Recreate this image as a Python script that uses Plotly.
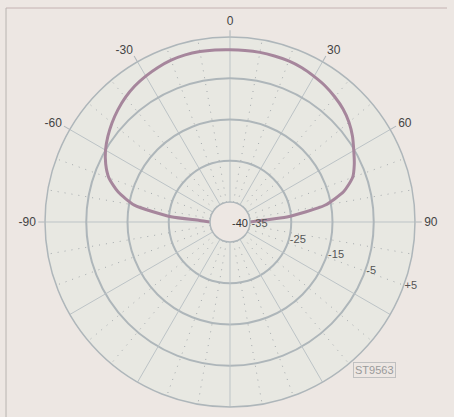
import plotly.graph_objects as go

# ---- data ----
angles_deg = [-90, -87, -85, -80, -75, -70, -65, -60, -55, -50, -45, -40, -35, -30, -25, -20, -15, -10, -5,
              0, 5, 10, 15, 20, 25, 30, 35, 40, 45, 50, 55, 60, 65, 70, 75, 80, 85, 87, 90]
level_db = [-35, -32.5, -25.5, -16.3, -11.8, -8.6, -6.6, -5.0, -3.7, -2.5, -1.4, -0.4, 0.4, 1.0, 1.5, 1.9, 2.1, 2.1, 2.0,
            1.9, 1.9, 1.9, 1.8, 1.7, 1.4, 0.9, 0.4, -0.3, -1.1, -2.2, -3.6, -5.2, -6.6, -8.2, -11.3, -16.5, -26.0, -32.0, -35]

ring_values = [-35, -25, -15, -5, 5]
ring_labels = ['-35', '-25', '-15', '-5', '+5']
center_label = '-40'
spoke_values = [0, 30, 60, 90, 270, 300, 330]
spoke_labels = ['0', '30', '60', '90', '-90', '-60', '-30']
lower_spokes = [120, 150, 180, 210, 240]
minor_spokes = [10, 20, 40, 50, 70, 80, 100, 110, 130, 140, 160, 170,
                190, 200, 220, 230, 250, 260, 280, 290, 310, 320, 340, 350]
code_label = 'ST9563'

W, H = 454, 417
cx, cy, R = 230, 222, 185
grid_col = '#aeb6ba'
spoke_col = '#bcc3c6'
font_fam = 'Liberation Sans, Arial, sans-serif'

fig = go.Figure()

# dotted minor spokes
for a in minor_spokes:
    fig.add_trace(go.Scatterpolar(r=[ring_values[0], ring_values[-1]], theta=[a, a], mode='lines',
                                  line=dict(color='#a4a9ac', width=1, dash='1px,6px'),
                                  hoverinfo='skip', showlegend=False))
# lower unlabeled spokes
for a in lower_spokes:
    fig.add_trace(go.Scatterpolar(r=[ring_values[0], ring_values[-1]], theta=[a, a], mode='lines',
                                  line=dict(color=spoke_col, width=1),
                                  hoverinfo='skip', showlegend=False))

# polar response curve
fig.add_trace(go.Scatterpolar(r=level_db, theta=angles_deg, mode='lines',
                              line=dict(color='#a6869c', width=3, shape='spline', smoothing=0.6),
                              hoverinfo='skip', showlegend=False))

fig.update_layout(
    width=W, height=H,
    margin=dict(l=0, r=0, t=0, b=0),
    paper_bgcolor='#ede7e3',
    font=dict(family=font_fam, color='#4a4a4a'),
    polar=dict(
        domain=dict(x=[(cx - R) / W, (cx + R) / W], y=[(H - cy - R) / H, (H - cy + R) / H]),
        bgcolor='#e8e8e2',
        hole=20 / R,
        angularaxis=dict(rotation=90, direction='clockwise',
                         tickmode='array', tickvals=spoke_values, ticktext=spoke_labels,
                         ticks='outside', ticklen=6, tickcolor=grid_col,
                         tickfont=dict(size=12, color='#444444'),
                         showline=True, linecolor=grid_col, linewidth=1.5,
                         showgrid=True, gridcolor=spoke_col, gridwidth=1),
        radialaxis=dict(range=[-35, 5], angle=-22, tickangle=-22, side='counterclockwise',
                        tickmode='array', tickvals=ring_values, ticktext=ring_labels,
                        showline=False, ticks='', tickfont=dict(size=11, color='#555555'),
                        showgrid=True, gridcolor=grid_col, gridwidth=1.5),
    ),
    shapes=[
        dict(type='line', xref='paper', yref='paper', x0=6 / W, x1=447 / W, y0=1 - 8 / H, y1=1 - 8 / H,
             line=dict(color='#c4b2b2', width=1)),
        dict(type='line', xref='paper', yref='paper', x0=6 / W, x1=6 / W, y0=0, y1=1 - 8 / H,
             line=dict(color='#b8b4b0', width=1)),
    ],
    annotations=[
        dict(text=center_label, x=240 / W, y=1 - 223 / H, xref='paper', yref='paper', showarrow=False,
             font=dict(size=11, color='#333333')),
        dict(text=code_label, x=396 / W, y=1 - 378 / H, xref='paper', yref='paper', showarrow=False,
             font=dict(size=11, color='#9a9a9a'), bordercolor='#c0c0c0', borderwidth=1, borderpad=1),
    ],
)

fig.write_html('out.html')
